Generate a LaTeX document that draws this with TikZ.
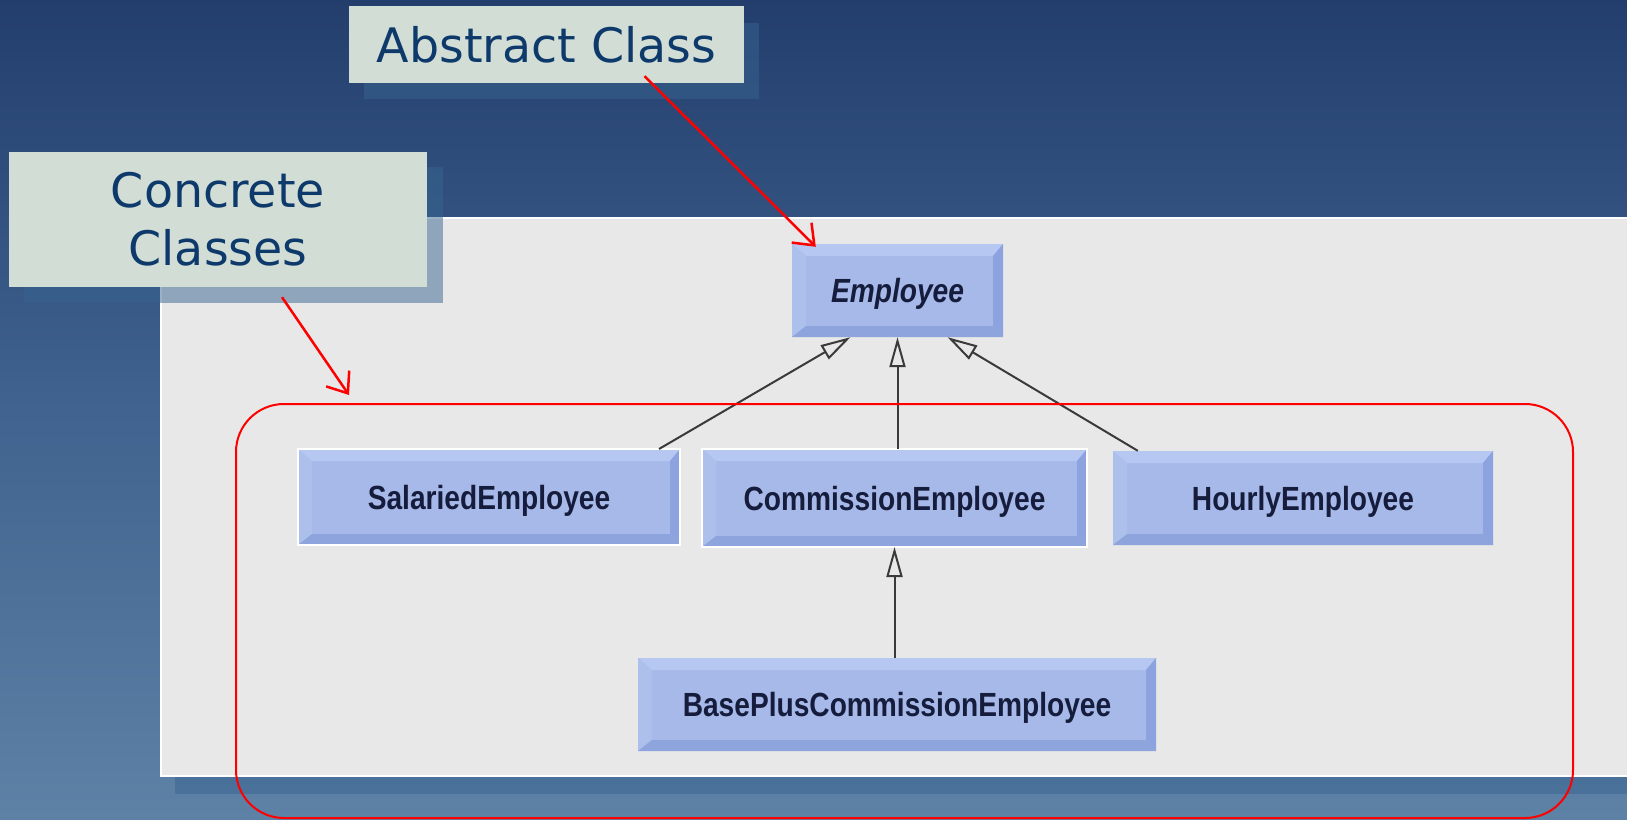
\documentclass[tikz,border=0pt]{standalone}
\usepackage{fontspec}
\setmainfont{DejaVu Sans}
\newfontfamily\clsfont[FakeStretch=0.84]{Liberation Sans}
\usetikzlibrary{arrows.meta}

\definecolor{bgtop}{HTML}{233E6D}
\definecolor{bgmid}{HTML}{40638F}
\definecolor{bgbot}{HTML}{5E81A6}
\definecolor{panelgrey}{HTML}{E8E8E8}
\definecolor{shadowblue}{HTML}{37648F}
\definecolor{notefill}{HTML}{D1DDD5}
\definecolor{notetext}{HTML}{0E3A6B}
\definecolor{clsface}{HTML}{A6B9E8}
\definecolor{clstop}{HTML}{B6C8F1}
\definecolor{clsleft}{HTML}{ADC0EC}
\definecolor{clsright}{HTML}{8CA3DF}
\definecolor{clsbottom}{HTML}{8EA4DC}
\definecolor{clstext}{HTML}{161C3C}
\definecolor{linkgrey}{HTML}{3A3A3A}

\tikzset{
  x=1pt, y=-1pt,
  note/.style={fill=notefill, text=notetext, inner sep=0pt, align=center,
    font=\fontsize{47.5}{58}\selectfont},
  noteshadow/.style={fill=shadowblue, fill opacity=0.5},
  cls/.style={fill=clsface, inner sep=0pt, text=clstext,
    text height=24pt, text depth=0pt,
    font=\clsfont\bfseries\fontsize{33.5}{40}\selectfont,
    path picture={
      \coordinate (nw) at (path picture bounding box.north west);
      \coordinate (ne) at (path picture bounding box.north east);
      \coordinate (sw) at (path picture bounding box.south west);
      \coordinate (se) at (path picture bounding box.south east);
      \fill[clstop] (nw) -- (ne) -- ([shift={(-10,12)}]ne) -- ([shift={(14,12)}]nw) -- cycle;
      \fill[clsleft] (nw) -- ([shift={(14,12)}]nw) -- ([shift={(14,-11)}]sw) -- (sw) -- cycle;
      \fill[clsright] (ne) -- (se) -- ([shift={(-10,-11)}]se) -- ([shift={(-10,12)}]ne) -- cycle;
      \fill[clsbottom] (sw) -- (se) -- ([shift={(-10,-11)}]se) -- ([shift={(14,-11)}]sw) -- cycle;
    }},
  outlined/.style={draw=white, line width=2pt, outer sep=0pt},
  inherit/.style={draw=linkgrey, line width=2pt,
    -{Triangle[open, length=30pt, width=16pt, line width=2pt]}},
  callout/.style={draw=red, line width=2.5pt,
    -{Straight Barb[length=18pt, width=28pt, line width=2.5pt]}},
}

\begin{document}
\begin{tikzpicture}
\useasboundingbox (0,0) rectangle (1627,819);
\clip (0,0) rectangle (1627,819);

% slide background
\shade[top color=bgtop, bottom color=bgbot, middle color=bgmid] (0,0) rectangle (1627,819);

% diagram panel and its drop shadow
\fill[shadowblue, fill opacity=0.5] (175,236) rectangle (1640,794);
\fill[panelgrey, draw=white, line width=1.5pt] (161,218) rectangle (1640,776);

% class boxes
\node[cls, minimum width=211, minimum height=93] (emp) at (897.5,290.5)
  {\itshape Employee};
\node[cls, outlined, minimum width=382, minimum height=96] (sal) at (489,497)
  {SalariedEmployee};
\node[cls, outlined, minimum width=385, minimum height=98] (com) at (894.5,498)
  {CommissionEmployee};
\node[cls, minimum width=380, minimum height=94] (hour) at (1303,498)
  {HourlyEmployee};
\node[cls, minimum width=518, minimum height=93] (base) at (897,704.5)
  {BasePlusCommissionEmployee};

% generalisation links
\draw[inherit] ([xshift=-21]sal.north east) -- ([xshift=-47]emp.south);
\draw[inherit] (com.north -| emp.south) -- (emp.south);
\draw[inherit] ([xshift=25]hour.north west) -- ([xshift=50]emp.south);
\draw[inherit] (base.north -| com.south) -- (com.south);

% group of concrete classes
\node[draw=red, line width=2pt, rounded corners=48pt, inner sep=0pt,
  minimum width=1337, minimum height=414] (grp) at (904.5,611) {};

% annotation notes with their shadows
\fill[noteshadow] (364,23) rectangle (759,99);
\node[note, minimum width=395, minimum height=77] (abs) at (546.5,44.5)
  {Abstract Class};
\fill[noteshadow] (24,167) rectangle (443,303);
\node[note, minimum width=418, minimum height=135] (conc) at (218,219.5)
  {Concrete\\Classes};

% red callout arrows
\coordinate (absfoot) at ([shift={(98,-7)}]abs.south);
\coordinate (empcorner) at ([shift={(24,3)}]emp.north west);
\draw[callout] (absfoot) -- (empcorner);
\coordinate (concfoot) at ([shift={(64,10)}]conc.south);
\coordinate (grpcorner) at ([shift={(114,-8)}]grp.north west);
\draw[callout] (concfoot) -- (grpcorner);
\end{tikzpicture}
\end{document}
